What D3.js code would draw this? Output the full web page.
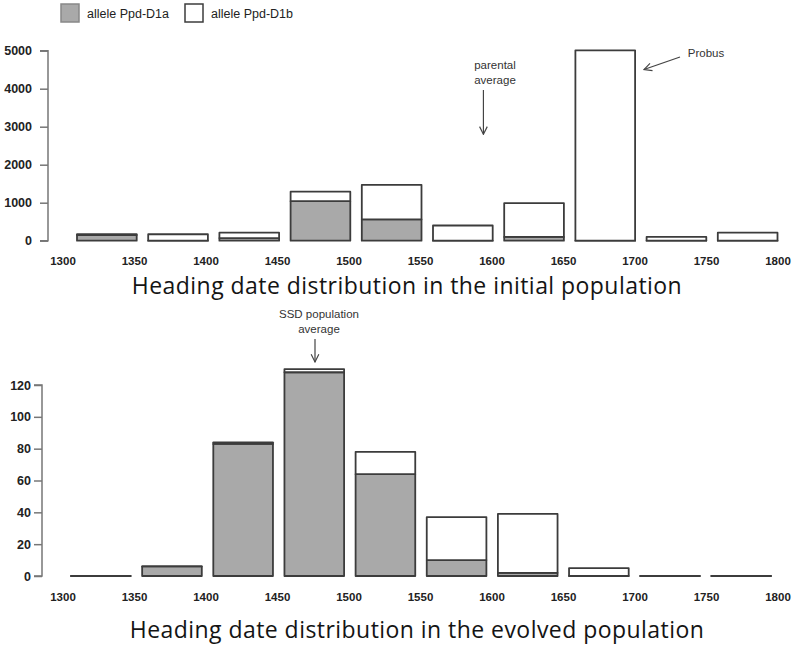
<!DOCTYPE html>
<html>
<head>
<meta charset="utf-8">
<script src="https://cdn.jsdelivr.net/npm/d3@7"></script>
<style>
  body { margin: 0; background: #fff; }
  svg { display: block; }
  .tick-label { font-family: "Liberation Sans", Arial, sans-serif; fill: #222; }
  .note { font-family: "Liberation Sans", Arial, sans-serif; font-size: 11.5px; fill: #333; }
  .title { font-family: "Open Sans", sans-serif; font-size: 23px; letter-spacing: 0.45px; fill: #141414; }
</style>
</head>
<body>
<svg id="chart" width="795" height="648"></svg>
<script>
// heading date bins (lower bounds), one bar per bin
const bins = [1300, 1350, 1400, 1450, 1500, 1550, 1600, 1650, 1700, 1750];
const xTicks = [1300, 1350, 1400, 1450, 1500, 1550, 1600, 1650, 1700, 1750, 1800];

// initial population
const initialD1a = [150, 0, 70, 1040, 560, 0, 100, 0, 0, 0];
const initialD1b = [20, 170, 140, 250, 910, 400, 890, 5010, 100, 210];
const initialTicks = [0, 1000, 2000, 3000, 4000, 5000];

// evolved population
const evolvedD1a = [0, 6, 83, 128, 64, 10, 2, 0, 0, 0];
const evolvedD1b = [0, 0, 1, 2, 14, 27, 37, 5, 0, 0];
const evolvedTicks = [0, 20, 40, 60, 80, 100, 120];

const series = [
  { key: 'a', label: 'allele Ppd-D1a', fill: '#a9a9a9' },
  { key: 'b', label: 'allele Ppd-D1b', fill: '#ffffff' }
];

const svg = d3.select('#chart');
const stroke = '#3c3c3c';

svg.append('defs').append('marker')
  .attr('id', 'arrow')
  .attr('viewBox', '0 0 10 10')
  .attr('refX', 9).attr('refY', 5)
  .attr('markerWidth', 8).attr('markerHeight', 8)
  .attr('orient', 'auto')
  .append('path')
  .attr('d', 'M1,1 L9,5 L1,9')
  .attr('fill', 'none')
  .attr('stroke', '#444')
  .attr('stroke-width', 1.2);

// legend
const legend = svg.append('g').attr('transform', 'translate(61,4)');
const legendItems = legend.selectAll('g')
  .data(series)
  .enter()
  .append('g')
  .attr('transform', (d, i) => `translate(${i * 124},0)`);
legendItems.append('rect')
  .attr('width', 18).attr('height', 18)
  .attr('fill', d => d.fill)
  .attr('stroke', d => d.key === 'a' ? '#888' : stroke)
  .attr('stroke-width', 1.5);
legendItems.append('text')
  .attr('class', 'tick-label')
  .attr('x', 26).attr('y', 14)
  .style('font-size', '12.5px')
  .text(d => d.label);

// draws one stacked histogram panel
function panel(opts) {
  const rows = bins.map((b, i) => ({ lo: b, hi: b + 50, a: opts.d1a[i], b: opts.d1b[i] }));
  const stacked = d3.stack().keys(series.map(s => s.key))(rows);

  const y = d3.scaleLinear()
    .domain([0, d3.max(opts.ticks)])
    .range([opts.y0, opts.y1]);

  // label positions, and bar positions (bars are shifted a bit within each bin)
  const xl = d3.scaleLinear().domain([1300, 1800]).range([63, 778]);
  const xb = d3.scaleLinear().domain([1300, 1800]).range(opts.barRange);
  const gap = 11.5;

  const g = svg.append('g');

  // y axis, R style: line only spans the ticks
  const axis = d3.axisLeft(y)
    .tickValues(opts.ticks)
    .tickSize(8)
    .tickPadding(opts.pad)
    .tickFormat(d3.format('d'));
  const ax = g.append('g')
    .attr('transform', `translate(${opts.axisX},0)`)
    .call(axis);
  ax.select('.domain')
    .attr('d', `M-8,${y(0)}H0V${y(d3.max(opts.ticks))}H-8`)
    .attr('stroke', '#777').attr('stroke-width', 1.5);
  ax.selectAll('.tick line').attr('stroke', '#777').attr('stroke-width', 1.5);
  ax.selectAll('.tick text')
    .attr('class', 'tick-label')
    .style('font-size', '12.5px')
    .style('font-weight', 'bold')
    .attr('fill', '#2a2a2a');

  // bars drawn as paths so zero-height bins still show as a line
  const layers = g.selectAll('.layer')
    .data(stacked)
    .enter()
    .append('g')
    .attr('fill', (d, i) => series[i].fill);
  layers.selectAll('path')
    .data(d => d)
    .enter()
    .append('path')
    .attr('d', d => {
      const x0 = xb(d.data.lo), x1 = xb(d.data.hi) - gap;
      const yb = y(d[0]), yt = y(d[1]);
      const p = d3.path();
      p.moveTo(x0, yb); p.lineTo(x1, yb); p.lineTo(x1, yt); p.lineTo(x0, yt); p.closePath();
      return p.toString();
    })
    .attr('stroke', stroke)
    .attr('stroke-width', 1.8)
    .attr('stroke-linejoin', 'round');

  // x labels at bin edges
  g.selectAll('.xlab')
    .data(xTicks)
    .enter()
    .append('text')
    .attr('class', 'tick-label')
    .attr('x', d => xl(d))
    .attr('y', opts.labelY)
    .attr('text-anchor', 'middle')
    .style('font-size', '11.5px')
    .style('font-weight', 'bold')
    .attr('fill', '#333')
    .text(d => d);

  g.append('text')
    .attr('class', 'title')
    .attr('x', opts.titleX)
    .attr('y', opts.titleY)
    .attr('text-anchor', 'middle')
    .text(opts.title);

  return { xl, y };
}

const initialPanel = panel({
  d1a: initialD1a, d1b: initialD1b, ticks: initialTicks,
  y0: 240.7, y1: 50.7, axisX: 48, pad: 8,
  barRange: [77, 789], labelY: 265,
  title: 'Heading date distribution in the initial population', titleX: 407, titleY: 294
});

panel({
  d1a: evolvedD1a, d1b: evolvedD1b, ticks: evolvedTicks,
  y0: 576, y1: 385, axisX: 42, pad: 3,
  barRange: [71, 782.5], labelY: 601,
  title: 'Heading date distribution in the evolved population', titleX: 417, titleY: 638
});

// annotations
function note(lines, x, y) {
  svg.append('text')
    .attr('class', 'note')
    .attr('text-anchor', 'middle')
    .selectAll('tspan')
    .data(lines)
    .enter()
    .append('tspan')
    .attr('x', x)
    .attr('y', (d, i) => y + i * 14.5)
    .text(d => d);
}
function arrow(x1, y1, x2, y2) {
  svg.append('line')
    .attr('x1', x1).attr('y1', y1).attr('x2', x2).attr('y2', y2)
    .attr('stroke', '#444').attr('stroke-width', 1.2)
    .attr('marker-end', 'url(#arrow)');
}

note(['parental', 'average'], 495, 69);
arrow(initialPanel.xl(1594), 90, initialPanel.xl(1594), initialPanel.y(2800));
note(['Probus'], 706, 57);
arrow(680, 57, 644, 69.5);
note(['SSD population', 'average'], 319, 318);
arrow(315, 339, 315, 362);
</script>
</body>
</html>
